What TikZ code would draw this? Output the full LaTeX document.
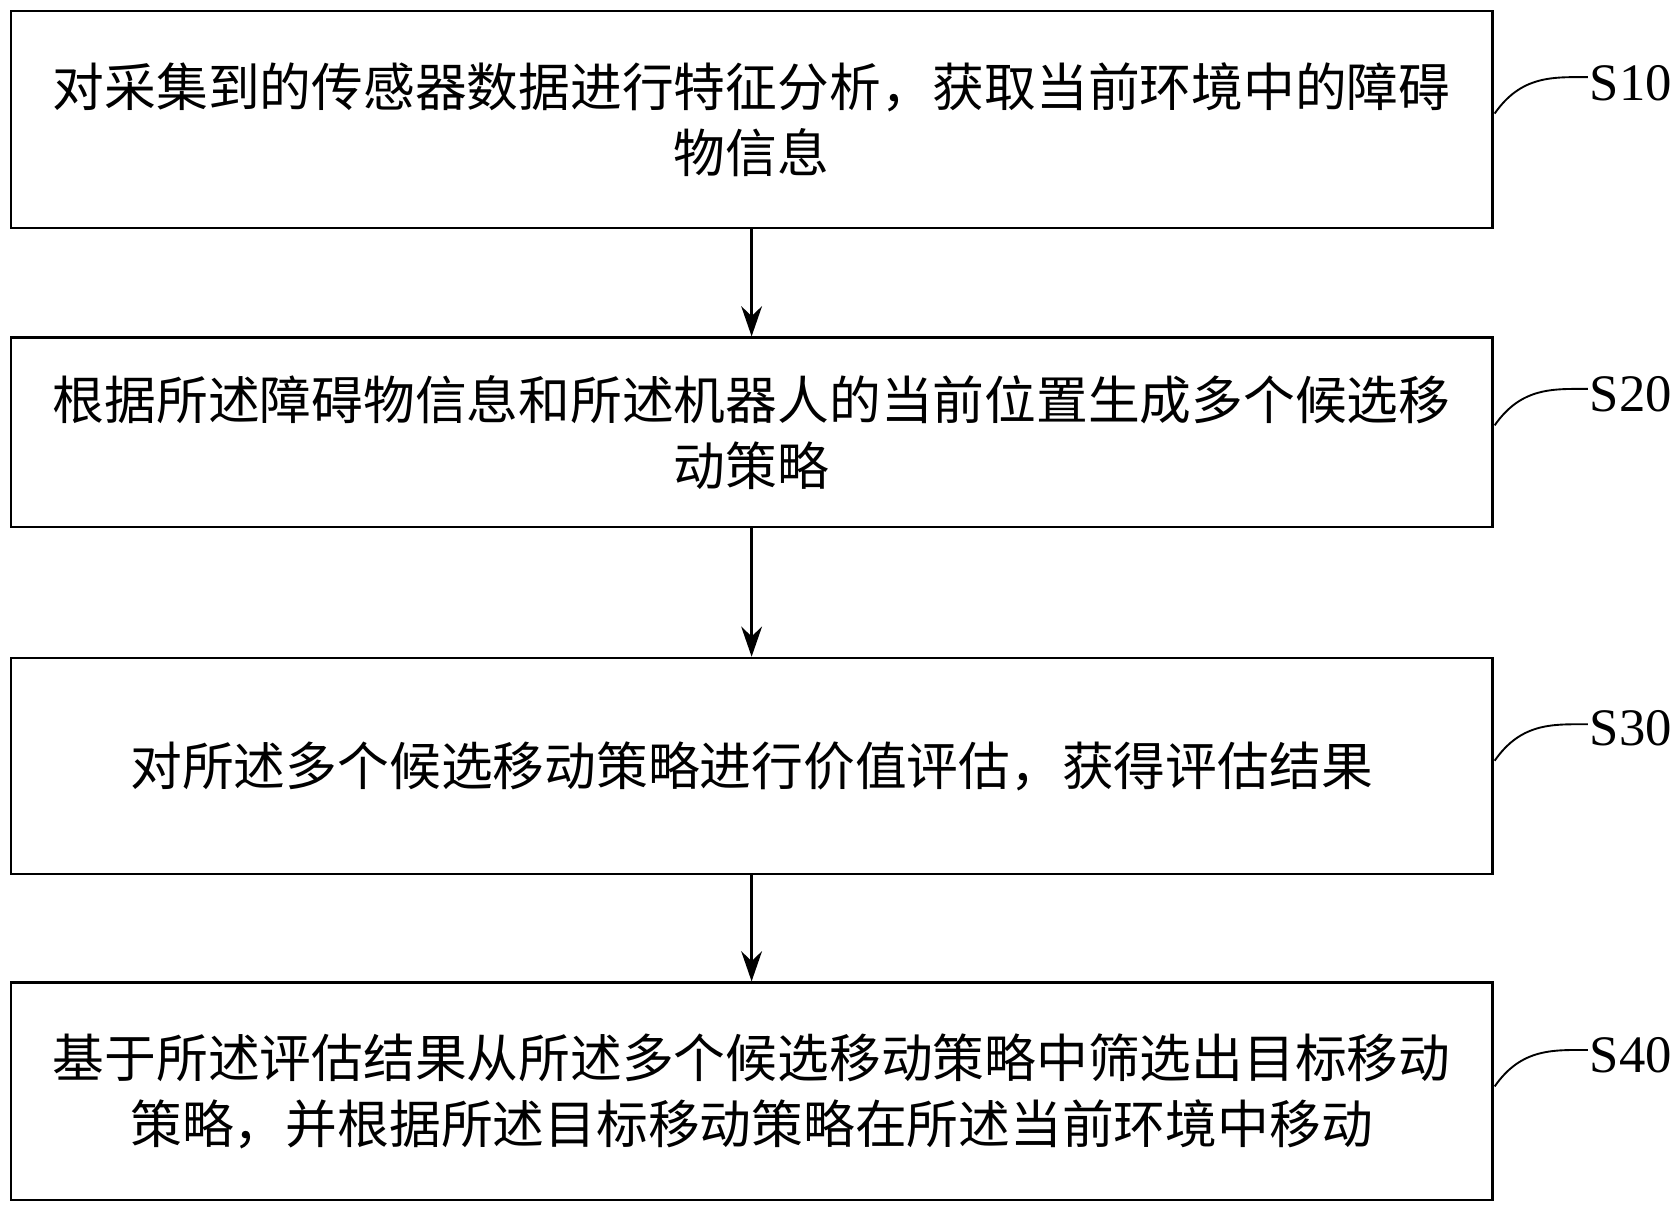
\documentclass[tikz,border=0pt]{standalone}
\usepackage{fontspec}
\setmainfont{Liberation Serif}
\newfontfamily\cjk{Noto Sans CJK SC}
\usetikzlibrary{arrows.meta}
\tikzset{
	stepbox/.style={draw=black, line width=1.2pt, minimum width=27.66cm, inner sep=0pt, align=center, font=\cjk\fontsize{27.5}{35}\selectfont},
	flow/.style={-{Stealth[length=16pt, width=11pt]}, line width=1.6pt},
	tag/.style={font=\fontsize{28}{34}\selectfont},
}
\begin{document}
\begin{tikzpicture}[x=0.02cm, y=-0.02cm]
	\useasboundingbox (0,0) rectangle (1568,1131);

	\node[stepbox, minimum height=4.06cm](sten) at (701.5,111.5){对采集到的传感器数据进行特征分析，获取当前环境中的障碍\\物信息};
	\node[stepbox, minimum height=3.54cm](stwenty) at (701.5,403.5){根据所述障碍物信息和所述机器人的当前位置生成多个候选移\\动策略};
	\node[stepbox, minimum height=4.04cm](sthirty) at (701.5,715){对所述多个候选移动策略进行价值评估，获得评估结果};
	\node[stepbox, minimum height=4.06cm](sforty) at (701.5,1018.5){基于所述评估结果从所述多个候选移动策略中筛选出目标移动\\策略，并根据所述目标移动策略在所述当前环境中移动};

	\draw[flow] (sten) -- (stwenty);
	\draw[flow] (stwenty) -- (sthirty);
	\draw[flow] (sthirty) -- (sforty);

	\node[tag](lten) at (1522,78){S10};
	\node[tag](ltwenty) at (1522,368){S20};
	\node[tag](lthirty) at (1522,680){S30};
	\node[tag](lforty) at (1522,985){S40};

	\draw[line width=1pt] (1395,106) .. controls (1420,70) and (1450,72) .. (1482,72);
	\draw[line width=1pt] (1395,397) .. controls (1420,361) and (1450,363) .. (1482,363);
	\draw[line width=1pt] (1395,710) .. controls (1420,674) and (1450,676) .. (1482,676);
	\draw[line width=1pt] (1395,1014) .. controls (1420,978) and (1450,980) .. (1482,980);
\end{tikzpicture}
\end{document}
